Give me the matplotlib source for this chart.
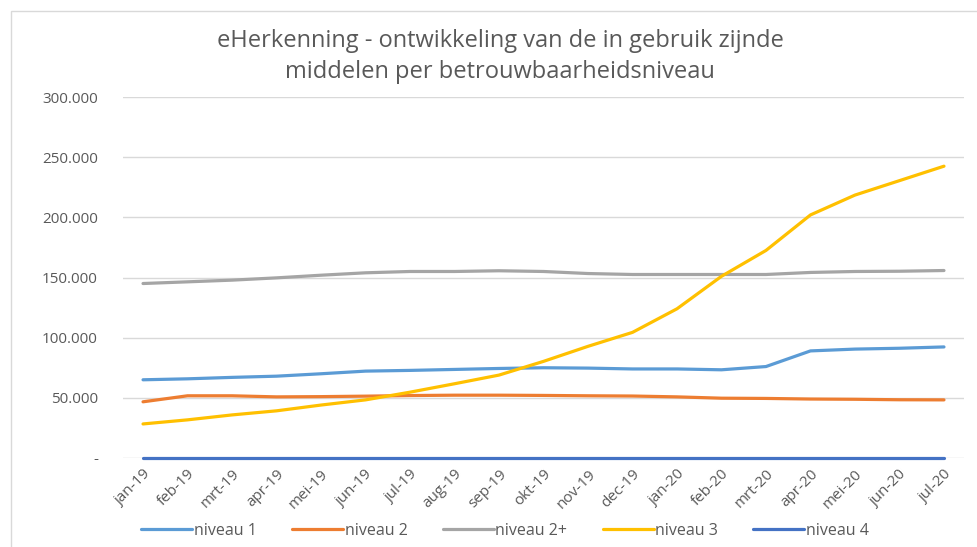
import matplotlib.pyplot as plt
from matplotlib.ticker import FuncFormatter
from matplotlib.patches import Rectangle

plt.rcParams['font.family'] = ['Open Sans', 'DejaVu Sans']

# maanden en aantallen per niveau
maanden = ['jan-19', 'feb-19', 'mrt-19', 'apr-19', 'mei-19', 'jun-19', 'jul-19',
           'aug-19', 'sep-19', 'okt-19', 'nov-19', 'dec-19', 'jan-20', 'feb-20',
           'mrt-20', 'apr-20', 'mei-20', 'jun-20', 'jul-20']
niveau_1 = [65000, 65800, 67000, 68000, 70000, 72200, 72800, 73600, 74400, 75000,
            74700, 74000, 74000, 73300, 76000, 89000, 90500, 91200, 92300]
niveau_2 = [46700, 51700, 51700, 50800, 51000, 51400, 51900, 52200, 52200, 52000,
            51700, 51500, 50800, 49700, 49500, 49000, 48800, 48400, 48300]
niveau_2plus = [145000, 146400, 147800, 149700, 151900, 153900, 155000, 155000,
                155600, 155000, 153300, 152500, 152500, 152500, 152500, 154200,
                155000, 155200, 155800]
niveau_3 = [28300, 31700, 35800, 39200, 44000, 48300, 54700, 61700, 68900, 80300,
            92800, 104400, 124000, 151000, 172500, 202000, 218500, 230500, 242500]
niveau_4 = [300] * len(maanden)

series = [('niveau 1', niveau_1, '#5B9BD5'),
          ('niveau 2', niveau_2, '#ED7D31'),
          ('niveau 2+', niveau_2plus, '#A5A5A5'),
          ('niveau 3', niveau_3, '#FFC000'),
          ('niveau 4', niveau_4, '#4472C4')]

fig = plt.figure(figsize=(9.77, 5.47), dpi=100)
ax = fig.add_axes([123 / 977, 89 / 547, 841 / 977, 361 / 547])

x = list(range(len(maanden)))
for naam, waarden, kleur in series:
    ax.plot(x, waarden, color=kleur, lw=2.3, label=naam,
            solid_capstyle='round', clip_on=False)

ax.set_ylim(0, 300000)
ax.set_xlim(-0.45, len(maanden) - 0.55)
ax.set_yticks(range(0, 300001, 50000))
ax.yaxis.set_major_formatter(FuncFormatter(
    lambda v, p: '-' if v == 0 else f'{int(v):,}'.replace(',', '.')))
ax.set_xticks(x)
ax.set_xticklabels(maanden, rotation=45, ha='right', rotation_mode='anchor')
ax.tick_params(axis='both', length=0, colors='#595959', labelsize=11)
ax.tick_params(axis='y', pad=18)
ax.tick_params(axis='x', pad=6)
ax.grid(axis='y', color='#D9D9D9', lw=1)
ax.set_axisbelow(True)
for s in ax.spines.values():
    s.set_visible(False)

fig.text(0.512, 0.897, 'eHerkenning - ontwikkeling van de in gebruik zijnde\n'
         'middelen per betrouwbaarheidsniveau', ha='center', va='center',
         fontsize=17, color='#595959', linespacing=1.4)

fig.legend(loc='center', bbox_to_anchor=(0.517, 0.030), ncol=5, frameon=False,
           fontsize=11.5, handlelength=3.2, handletextpad=0.1, columnspacing=2.2,
           labelcolor='#595959')

fig.patches.append(Rectangle((11 / 977, -0.1), 1.2, 1 - 11 / 547 + 0.1,
                             transform=fig.transFigure, fill=False,
                             edgecolor='#D9D9D9', lw=1))

fig.savefig('out.png', dpi=100)
